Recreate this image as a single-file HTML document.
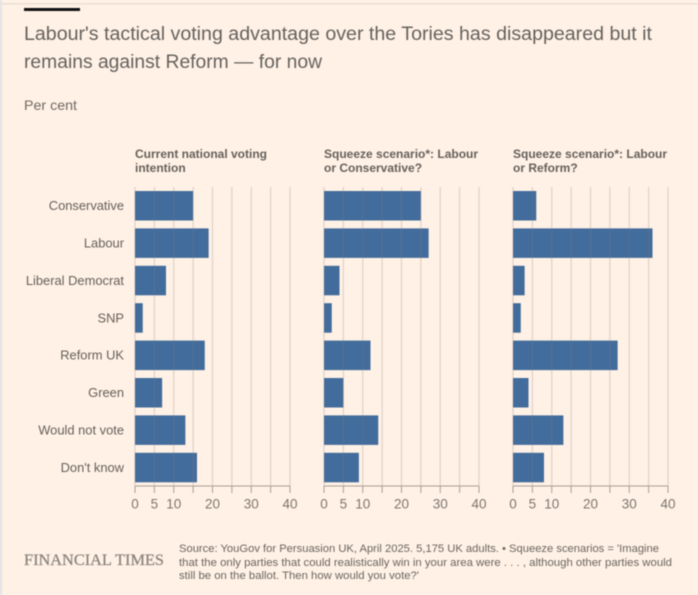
<!DOCTYPE html>
<html lang="en">
<head>
<meta charset="utf-8">
<title>Labour's tactical voting advantage</title>
<style>
html,body{margin:0;padding:0;background:#fff1e5;}
body{width:698px;height:595px;overflow:hidden;position:relative;}
svg{display:block;position:absolute;left:0;top:0;filter:blur(0.5px);}
text{font-family:"Liberation Sans",sans-serif;}
</style>
</head>
<body>
<svg id="chart" width="698" height="595" viewBox="0 0 698 595" xmlns="http://www.w3.org/2000/svg">
  <rect x="0" y="0" width="698" height="595" fill="#fff1e5"/>
  <rect x="0" y="0" width="2" height="595" fill="#dfe3e8"/>
  <rect x="0" y="3" width="698" height="1.5" fill="#eadfd6"/>
  <rect x="24" y="8" width="56" height="3" fill="#111"/>
  <text x="24" y="40" font-size="19.6" fill="#66625f" textLength="628" lengthAdjust="spacingAndGlyphs">Labour's tactical voting advantage over the Tories has disappeared but it</text>
  <text x="24" y="68" font-size="19.6" fill="#66625f" textLength="298" lengthAdjust="spacingAndGlyphs">remains against Reform — for now</text>
  <text x="24" y="110" font-size="14" fill="#6f6a66" textLength="53" lengthAdjust="spacingAndGlyphs">Per cent</text>
  <text x="24" y="565" font-size="16" fill="#8a847e" stroke="#8a847e" stroke-width="0.25" style="font-family:'Liberation Serif',serif" textLength="140" lengthAdjust="spacingAndGlyphs">FINANCIAL TIMES</text>
  <text x="179" y="552" font-size="11" fill="#6a6561" textLength="480" lengthAdjust="spacingAndGlyphs">Source: YouGov for Persuasion UK, April 2025. 5,175 UK adults. • Squeeze scenarios = 'Imagine</text>
  <text x="179" y="566" font-size="11" fill="#6a6561" textLength="493" lengthAdjust="spacingAndGlyphs">that the only parties that could realistically win in your area were . . . , although other parties would</text>
  <text x="179" y="579" font-size="11" fill="#6a6561" textLength="240" lengthAdjust="spacingAndGlyphs">still be on the ballot. Then how would you vote?'</text>
</svg>
<script>
var categories = ["Conservative", "Labour", "Liberal Democrat", "SNP", "Reform UK", "Green", "Would not vote", "Don't know"];
var currentVoting = [15, 19, 8, 2, 18, 7, 13, 16];
var squeezeConservative = [25, 27, 4, 2, 12, 5, 14, 9];
var squeezeReform = [6, 36, 3, 2, 27, 4, 13, 8];
var tickValues = [0, 5, 10, 15, 20, 25, 30, 35, 40];
var tickLabels = ["0", "5", "10", "", "20", "", "30", "", "40"];
var panelTitles = [
  ["Current national voting", "intention"],
  ["Squeeze scenario*: Labour", "or Conservative?"],
  ["Squeeze scenario*: Labour", "or Reform?"]
];

var NS = "http://www.w3.org/2000/svg";
var svg = document.getElementById("chart");
var panelSeries = [currentVoting, squeezeConservative, squeezeReform];
var panelLefts = [135, 324, 513];
var AXIS_MAX = 40, AXIS_WIDTH = 155, ROW_TOP = 191, ROW_STEP = 37.4, BAR_H = 29.5, AXIS_Y = 486;

function xScale(panel, v) { return panelLefts[panel] + v / AXIS_MAX * AXIS_WIDTH; }
function yScale(i) { return ROW_TOP + i * ROW_STEP; }
function make(tag, attrs, text) {
  var el = document.createElementNS(NS, tag);
  for (var k in attrs) el.setAttribute(k, attrs[k]);
  if (text !== undefined) el.textContent = text;
  svg.appendChild(el);
  return el;
}

categories.forEach(function (c, i) {
  var lab = make("text", {x: 124, y: yScale(i) + BAR_H / 2 + 4.3, "font-size": 12.9, fill: "#66605c", "text-anchor": "end"}, c);
  
  
});

panelSeries.forEach(function (series, p) {
  panelTitles[p].forEach(function (line, j) {
    var t = make("text", {x: panelLefts[p], y: 158 + j * 14, "font-size": 12, "font-weight": "bold", fill: "#66605c"}, line);
    
    
  });
  series.forEach(function (v, i) {
    var b = make("rect", {x: xScale(p, 0), y: yScale(i), width: xScale(p, v) - xScale(p, 0), height: BAR_H, fill: "#426c9c"});
    
    
  });
  tickValues.forEach(function (tv, k) {
    var x = xScale(p, tv);
    var g = make("line", {x1: x, x2: x, y1: 187, y2: AXIS_Y, stroke: "#8a7f78", "stroke-opacity": 0.24, "stroke-width": 1.4});
    
    
    var tk = make("line", {x1: x, x2: x, y1: AXIS_Y, y2: AXIS_Y + 7, stroke: "#a89e96", "stroke-width": 1});
    
    
    if (tickLabels[k]) {
      var tl = make("text", {x: x, y: 508.5, "font-size": 13.5, fill: "#7d7671", "text-anchor": "middle"}, tickLabels[k]);
      
      
    }
  });
  var ax = make("line", {x1: xScale(p, 0), x2: xScale(p, AXIS_MAX), y1: AXIS_Y, y2: AXIS_Y, stroke: "#a89e96", "stroke-width": 1});
  
  
});
</script>
</body>
</html>
